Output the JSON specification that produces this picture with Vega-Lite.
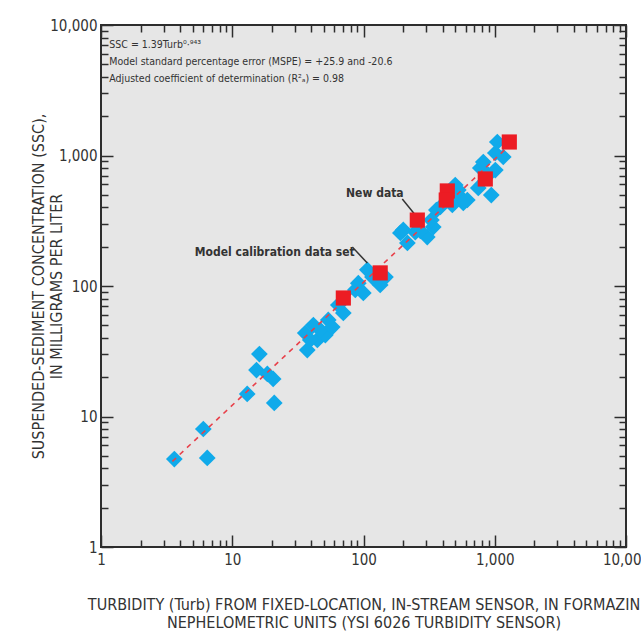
{
  "$schema": "https://vega.github.io/schema/vega-lite/v6.json",
  "width": 525,
  "height": 522,
  "autosize": {"type": "none"},
  "padding": {"left": 101, "top": 25, "right": 15, "bottom": 89},
  "background": "white",
  "config": {
    "view": {"fill": "#e6e6e6", "stroke": "#2d2d2d", "strokeWidth": 2},
    "font": "DejaVu Sans Condensed, Liberation Sans, sans-serif",
    "text": {"font": "DejaVu Sans Condensed, Liberation Sans, sans-serif"}
  },
  "datasets": {
    "calib": [
      {"turb": 3.62, "ssc": 4.72}, {"turb": 6.45, "ssc": 4.81}, {"turb": 6.02, "ssc": 8.02},
      {"turb": 13.0, "ssc": 14.9}, {"turb": 20.9, "ssc": 12.7}, {"turb": 16.1, "ssc": 30.1},
      {"turb": 15.3, "ssc": 22.7}, {"turb": 18.5, "ssc": 21.2}, {"turb": 20.5, "ssc": 19.4},
      {"turb": 37.3, "ssc": 32.3}, {"turb": 36.0, "ssc": 43.6}, {"turb": 41.5, "ssc": 50.2},
      {"turb": 44.5, "ssc": 38.6}, {"turb": 51.2, "ssc": 42.1}, {"turb": 53.9, "ssc": 54.9},
      {"turb": 70.2, "ssc": 62.1}, {"turb": 39.3, "ssc": 38.6}, {"turb": 46.9, "ssc": 46.0},
      {"turb": 57.8, "ssc": 48.5}, {"turb": 64.3, "ssc": 71.5}, {"turb": 86.6, "ssc": 93.2},
      {"turb": 91.3, "ssc": 105}, {"turb": 107, "ssc": 133}, {"turb": 134, "ssc": 102},
      {"turb": 117, "ssc": 117}, {"turb": 99.7, "ssc": 88.4}, {"turb": 147, "ssc": 117},
      {"turb": 191, "ssc": 255}, {"turb": 216, "ssc": 214}, {"turb": 306, "ssc": 237},
      {"turb": 340, "ssc": 283}, {"turb": 248, "ssc": 259}, {"turb": 201, "ssc": 269},
      {"turb": 271, "ssc": 264}, {"turb": 359, "ssc": 382}, {"turb": 329, "ssc": 320},
      {"turb": 385, "ssc": 403}, {"turb": 500, "ssc": 594}, {"turb": 547, "ssc": 481},
      {"turb": 576, "ssc": 433}, {"turb": 618, "ssc": 456}, {"turb": 475, "ssc": 418},
      {"turb": 528, "ssc": 544}, {"turb": 749, "ssc": 564}, {"turb": 941, "ssc": 498},
      {"turb": 776, "ssc": 802}, {"turb": 818, "ssc": 891}, {"turb": 1010, "ssc": 774},
      {"turb": 1010, "ssc": 1045}, {"turb": 1161, "ssc": 974}, {"turb": 1046, "ssc": 1269},
      {"turb": 893, "ssc": 709}
    ],
    "newdata": [
      {"turb": 70.2, "ssc": 80.9}, {"turb": 134, "ssc": 126}, {"turb": 257, "ssc": 320},
      {"turb": 435, "ssc": 535}, {"turb": 427, "ssc": 456}, {"turb": 847, "ssc": 661},
      {"turb": 1291, "ssc": 1269}
    ],
    "fit": [
      {"turb": 3.5, "ssc": 4.53}, {"turb": 1300, "ssc": 1200}
    ],
    "box": [
      {"turb": 1.157, "ssc": 6966, "label": "SSC = 1.39Turb⁰·⁹⁴³"},
      {"turb": 1.157, "ssc": 5161, "label": "Model standard percentage error (MSPE) = +25.9 and -20.6"},
      {"turb": 1.157, "ssc": 3823, "label": "Adjusted coefficient of determination (R²ₐ) = 0.98"}
    ],
    "callouts": [
      {"turb": 122, "ssc": 516, "label": "New data"},
      {"turb": 21.1, "ssc": 182, "label": "Model calibration data set"}
    ],
    "leaders": [
      {"turb": 197.5, "ssc": 464, "turb2": 248, "ssc2": 350},
      {"turb": 82.2, "ssc": 199, "turb2": 106.9, "ssc2": 150}
    ]
  },
  "layer": [
    {
      "data": {"name": "calib"},
      "mark": {"type": "point", "shape": "diamond", "filled": true, "size": 280, "color": "#10aaea", "opacity": 1},
      "encoding": {
        "x": {
          "field": "turb", "type": "quantitative",
          "scale": {"type": "log", "domain": [1, 10000], "nice": false},
          "axis": {
            "orient": "bottom",
            "values": [1, 10, 100, 1000, 10000],
            "format": ",",
            "tickSize": -12, "tickColor": "#2d2d2d", "tickWidth": 1.5,
            "domain": false, "grid": false,
            "labelPadding": 17, "labelFontSize": 15, "labelColor": "#333333",
            "labelFlush": false, "labelOverlap": false,
            "title": ["TURBIDITY (Turb) FROM FIXED-LOCATION, IN-STREAM SENSOR, IN FORMAZIN", "NEPHELOMETRIC UNITS (YSI 6026 TURBIDITY SENSOR)"],
            "titleFontSize": 16, "titleFontWeight": "normal", "titleColor": "#333333",
            "titleLineHeight": 18, "titlePadding": 29
          }
        },
        "y": {
          "field": "ssc", "type": "quantitative",
          "scale": {"type": "log", "domain": [1, 10000], "nice": false},
          "axis": {
            "orient": "left",
            "values": [1, 10, 100, 1000, 10000],
            "format": ",",
            "tickSize": -12, "tickColor": "#2d2d2d", "tickWidth": 1.5,
            "domain": false, "grid": false,
            "labelPadding": 16, "labelFontSize": 15, "labelColor": "#333333",
            "labelFlush": false, "labelOverlap": false,
            "title": ["SUSPENDED-SEDIMENT CONCENTRATION (SSC),", "IN MILLIGRAMS PER LITER"],
            "titleFontSize": 16, "titleFontWeight": "normal", "titleColor": "#333333",
            "titleLineHeight": 18, "titlePadding": -15
          }
        }
      }
    },
    {
      "data": {"name": "fit"},
      "mark": {"type": "line", "color": "#e8404a", "strokeWidth": 1.6, "strokeDash": [5, 5]},
      "encoding": {
        "x": {
          "field": "turb", "type": "quantitative",
          "scale": {"type": "log", "domain": [1, 10000], "nice": false},
          "axis": {
            "orient": "bottom",
            "values": [2,3,4,5,6,7,8,9,20,30,40,50,60,70,80,90,200,300,400,500,600,700,800,900,2000,3000,4000,5000,6000,7000,8000,9000],
            "labels": false, "tickSize": -7, "tickColor": "#2d2d2d", "tickWidth": 1.5,
            "domain": false, "grid": false, "title": null
          }
        },
        "y": {
          "field": "ssc", "type": "quantitative",
          "scale": {"type": "log", "domain": [1, 10000], "nice": false},
          "axis": {
            "orient": "left",
            "values": [2,3,4,5,6,7,8,9,20,30,40,50,60,70,80,90,200,300,400,500,600,700,800,900,2000,3000,4000,5000,6000,7000,8000,9000],
            "labels": false, "tickSize": -7, "tickColor": "#2d2d2d", "tickWidth": 1.5,
            "domain": false, "grid": false, "title": null
          }
        }
      }
    },
    {
      "data": {"name": "leaders"},
      "mark": {"type": "rule", "color": "#333333", "strokeWidth": 1.5},
      "encoding": {
        "x": {
          "field": "turb", "type": "quantitative",
          "scale": {"type": "log", "domain": [1, 10000], "nice": false},
          "axis": {
            "orient": "top",
            "values": [2,3,4,5,6,7,8,9,20,30,40,50,60,70,80,90,200,300,400,500,600,700,800,900,2000,3000,4000,5000,6000,7000,8000,9000],
            "labels": false, "tickSize": -7, "tickColor": "#2d2d2d", "tickWidth": 1.5,
            "domain": false, "grid": false, "title": null
          }
        },
        "y": {
          "field": "ssc", "type": "quantitative",
          "scale": {"type": "log", "domain": [1, 10000], "nice": false},
          "axis": {
            "orient": "right",
            "values": [2,3,4,5,6,7,8,9,20,30,40,50,60,70,80,90,200,300,400,500,600,700,800,900,2000,3000,4000,5000,6000,7000,8000,9000],
            "labels": false, "tickSize": -7, "tickColor": "#2d2d2d", "tickWidth": 1.5,
            "domain": false, "grid": false, "title": null
          }
        },
        "x2": {"field": "turb2"},
        "y2": {"field": "ssc2"}
      }
    },
    {
      "data": {"name": "newdata"},
      "mark": {"type": "point", "shape": "square", "filled": true, "size": 230, "color": "#ec1c24", "opacity": 1},
      "encoding": {
        "x": {
          "field": "turb", "type": "quantitative",
          "scale": {"type": "log", "domain": [1, 10000], "nice": false},
          "axis": {
            "orient": "top",
            "values": [1, 10, 100, 1000, 10000],
            "labels": false, "tickSize": -12, "tickColor": "#2d2d2d", "tickWidth": 1.5,
            "domain": false, "grid": false, "title": null
          }
        },
        "y": {
          "field": "ssc", "type": "quantitative",
          "scale": {"type": "log", "domain": [1, 10000], "nice": false},
          "axis": {
            "orient": "right",
            "values": [1, 10, 100, 1000, 10000],
            "labels": false, "tickSize": -12, "tickColor": "#2d2d2d", "tickWidth": 1.5,
            "domain": false, "grid": false, "title": null
          }
        }
      }
    },
    {
      "data": {"name": "box"},
      "mark": {"type": "text", "align": "left", "baseline": "middle", "fontSize": 10.5, "color": "#333333"},
      "encoding": {
        "x": {"field": "turb", "type": "quantitative", "scale": {"type": "log", "domain": [1, 10000], "nice": false}, "axis": null},
        "y": {"field": "ssc", "type": "quantitative", "scale": {"type": "log", "domain": [1, 10000], "nice": false}, "axis": null},
        "text": {"field": "label"}
      }
    },
    {
      "data": {"name": "callouts"},
      "mark": {"type": "text", "align": "center", "baseline": "middle", "fontSize": 12, "fontWeight": "bold", "color": "#333333"},
      "encoding": {
        "x": {"field": "turb", "type": "quantitative", "scale": {"type": "log", "domain": [1, 10000], "nice": false}, "axis": null},
        "y": {"field": "ssc", "type": "quantitative", "scale": {"type": "log", "domain": [1, 10000], "nice": false}, "axis": null},
        "text": {"field": "label"}
      }
    }
  ],
  "resolve": {"axis": {"x": "independent", "y": "independent"}}
}
